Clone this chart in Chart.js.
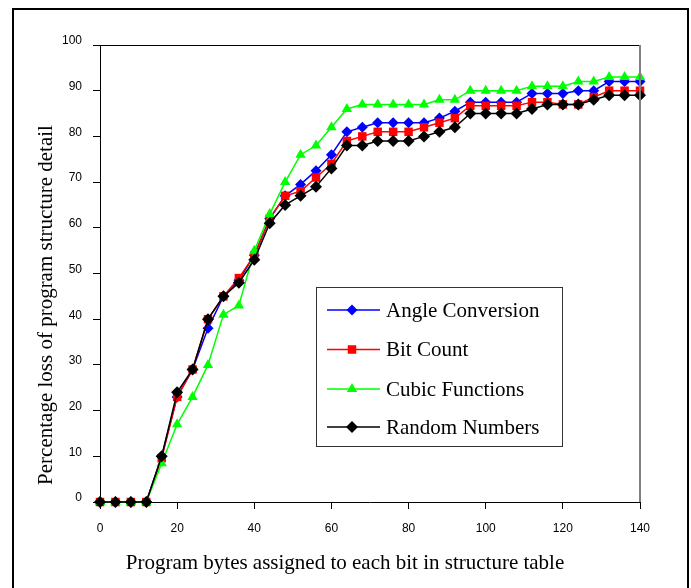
<!DOCTYPE html>
<html>
<head>
<meta charset="utf-8">
<script src="https://cdn.jsdelivr.net/npm/chart.js@4.4.1/dist/chart.umd.min.js"></script>
<style>
  html, body { margin: 0; padding: 0; background: #fff; }
  #wrap { position: relative; width: 691px; height: 588px; }
  canvas { display: block; }
</style>
</head>
<body>
<div id="wrap"><canvas id="c" width="691" height="588"></canvas></div>
<script>
// ---- data ----
const bytesPerBit = [0,4,8,12,16,20,24,28,32,36,40,44,48,52,56,60,64,68,72,76,80,84,88,92,96,100,104,108,112,116,120,124,128,132,136,140];
const angleConversion = [0,0,0,0,10,23,29,38,45,48.5,54,62,67,69.5,72.5,76,81,82,83,83,83,83,84,85.5,87.5,87.5,87.5,87.5,89.4,89.4,89.4,90,90,92,92,92];
const bitCount        = [0,0,0,0,9.6,23,29,40,45,49,54,62,67,68,71,74,79,80,81,81,81,82,83,84,86.7,86.7,86.7,86.7,87.5,87.5,87,87,88.6,90,90,90];
const cubicFunctions  = [0,0,0,0,8.5,17,23,30,41,43,55,63,70,76,78,82,86,87,87,87,87,87,88,88,90,90,90,90,91,91,91,92,92,93,93,93];
const randomNumbers   = [0,0,0,0,10,24,29,40,45,48,53,61,65,67,69,73,78,78,79,79,79,80,81,82,85,85,85,85,86,87,87,87,88,89,89,89];
const seriesNames = ['Angle Conversion','Bit Count','Cubic Functions','Random Numbers'];
const xTicks = [0,20,40,60,80,100,120,140];
const yTicks = [0,10,20,30,40,50,60,70,80,90,100];
const xTitle = 'Program bytes assigned to each bit in structure table';
const yTitle = 'Percentage loss of program structure detail';

const colors = ['#0000FF','#FF0000','#00FF00','#000000'];
const styles = ['rectRot','rect','triangle','rectRot'];
const radii  = [5.5,6,6,6];
const values = [angleConversion, bitCount, cubicFunctions, randomNumbers];
const serifFont = '21px "Liberation Serif", "Times New Roman", serif';

function pts(arr){ return arr.map((v,i)=>({x: bytesPerBit[i], y: v})); }

const datasets = values.map((arr,i)=>({
  label: seriesNames[i],
  data: pts(arr),
  borderColor: colors[i],
  backgroundColor: colors[i],
  borderWidth: 1.5,
  pointStyle: styles[i],
  pointRadius: radii[i],
  pointBorderWidth: 0,
  pointBackgroundColor: colors[i],
  order: 3 - i,
  tension: 0,
  clip: false
}));

const frameAndLegend = {
  id: 'frameAndLegend',
  beforeDraw(chart){
    const ctx = chart.ctx;
    ctx.save();
    ctx.fillStyle = '#fff';
    ctx.fillRect(0,0,chart.width,chart.height);
    ctx.restore();
  },
  afterDraw(chart){
    const ctx = chart.ctx;
    const a = chart.chartArea;
    ctx.save();
    // plot area top & right border
    ctx.strokeStyle = '#000';
    ctx.lineWidth = 1;
    ctx.beginPath();
    ctx.moveTo(a.left, a.top + 0.5);
    ctx.lineTo(a.right, a.top + 0.5);
    ctx.stroke();
    ctx.strokeStyle = '#808080';
    ctx.lineWidth = 2;
    ctx.beginPath();
    ctx.moveTo(a.right, a.top);
    ctx.lineTo(a.right, a.bottom);
    ctx.stroke();
    // outer frame
    ctx.strokeStyle = '#000';
    ctx.lineWidth = 2;
    ctx.strokeRect(13, 9, 675, 620);
    // axis titles
    ctx.fillStyle = '#000';
    ctx.font = serifFont;
    ctx.textAlign = 'center';
    ctx.textBaseline = 'middle';
    ctx.fillText(xTitle, 345, 563);
    ctx.save();
    ctx.translate(46, 305);
    ctx.rotate(-Math.PI / 2);
    ctx.fillText(yTitle, 0, 0);
    ctx.restore();
    // legend box
    const bx = 316, by = 287, bw = 246, bh = 159;
    ctx.fillStyle = '#fff';
    ctx.fillRect(bx, by, bw, bh);
    ctx.strokeStyle = '#333';
    ctx.lineWidth = 1;
    ctx.strokeRect(bx + 0.5, by + 0.5, bw, bh);
    const rows = [310, 349.5, 389, 427];
    ctx.font = serifFont;
    ctx.textBaseline = 'middle';
    ctx.textAlign = 'left';
    for (let i = 0; i < 4; i++) {
      const y = rows[i];
      ctx.strokeStyle = colors[i];
      ctx.lineWidth = 1.5;
      ctx.beginPath();
      ctx.moveTo(327, y);
      ctx.lineTo(380, y);
      ctx.stroke();
      ctx.fillStyle = colors[i];
      ctx.beginPath();
      Chart.helpers.drawPoint(ctx, {pointStyle: styles[i], radius: radii[i], rotation: 0, borderWidth: 0}, 352, y);
      ctx.fillStyle = '#000';
      ctx.fillText(seriesNames[i], 386, y + 1);
    }
    ctx.restore();
  }
};

new Chart(document.getElementById('c'), {
  type: 'line',
  data: { datasets },
  options: {
    responsive: false,
    animation: false,
    devicePixelRatio: 1,
    layout: { padding: { top: 45, right: 51, left: 0, bottom: 0 } },
    plugins: { legend: { display: false }, tooltip: { enabled: false } },
    scales: {
      x: {
        type: 'linear',
        min: 0, max: 140,
        afterBuildTicks: s => { s.ticks = xTicks.map(v => ({value: v})); },
        afterFit: s => { s.height = 86; },
        grid: { display: true, drawOnChartArea: false, drawTicks: true, tickLength: 7, color: '#000', lineWidth: 1 },
        border: { display: true, color: '#000', width: 1 },
        ticks: { color: '#000', padding: 12, font: { family: '"Liberation Sans", Arial, sans-serif', size: 12 }, maxRotation: 0 },
        title: { display: false, text: xTitle }
      },
      y: {
        type: 'linear',
        min: 0, max: 100,
        afterBuildTicks: s => { s.ticks = yTicks.map(v => ({value: v})); },
        afterFit: s => { s.width = 100; },
        grid: { display: true, drawOnChartArea: false, drawTicks: true, tickLength: 7, color: '#000', lineWidth: 1 },
        border: { display: true, color: '#000', width: 1 },
        ticks: { color: '#000', padding: 11, labelOffset: -4, font: { family: '"Liberation Sans", Arial, sans-serif', size: 12 } },
        title: { display: false, text: yTitle }
      }
    }
  },
  plugins: [frameAndLegend]
});
</script>
</body>
</html>
